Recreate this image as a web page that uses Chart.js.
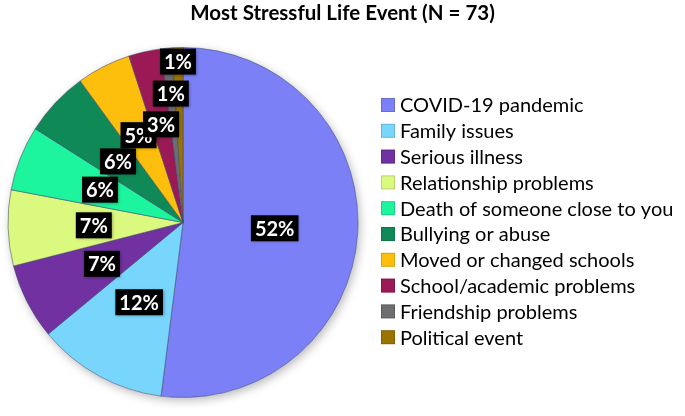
<!DOCTYPE html>
<html>
<head>
<meta charset="utf-8">
<script src="https://cdn.jsdelivr.net/npm/chart.js@4.4.0/dist/chart.umd.min.js"></script>
<style>
  html, body { margin: 0; padding: 0; background: #fff; }
</style>
</head>
<body>
<canvas id="chartPieEvents" width="685" height="416"></canvas>
<script>
var title = 'Most Stressful Life Event (N = 73)'
var labels = [
  'COVID-19 pandemic',
  'Family issues',
  'Serious illness',
  'Relationship problems',
  'Death of someone close to you',
  'Bullying or abuse',
  'Moved or changed schools',
  'School/academic problems',
  'Friendship problems',
  'Political event'
]
var values = [52, 12, 7, 7, 6, 6, 5, 3, 1, 1]
var colors = ['#7b80f7', '#78d5fc', '#7131a0', '#dbf97f', '#1cf59d', '#0f8a57', '#fdbf0c', '#9b1a56', '#6e6e70', '#9a7300']
// how far out (fraction of radius) each % box sits
var labelRadius = [0.525, 0.52, 0.52, 0.51, 0.51, 0.51, 0.56, 0.575, 0.74, 0.92]

var total = values.reduce(function (a, b) { return a + b }, 0)

// soft shadow under the pie
var pieShadow = {
  id: 'pieShadow',
  beforeDatasetsDraw: function (chart) {
    var arc = chart.getDatasetMeta(0).data[0]
    if (!arc) return
    var p = arc.getProps(['x', 'y', 'outerRadius'], true)
    var ctx = chart.ctx
    ctx.save()
    ctx.shadowColor = 'rgba(0,0,0,0.28)'
    ctx.shadowBlur = 10
    ctx.shadowOffsetX = 2
    ctx.shadowOffsetY = 3
    ctx.fillStyle = '#fff'
    ctx.beginPath()
    ctx.arc(p.x, p.y, p.outerRadius, 0, Math.PI * 2)
    ctx.fill()
    ctx.restore()
  }
}

// black boxes with white percentages
var percentLabels = {
  id: 'percentLabels',
  afterDatasetsDraw: function (chart) {
    var ctx = chart.ctx
    chart.getDatasetMeta(0).data.forEach(function (arc, i) {
      var p = arc.getProps(['x', 'y', 'startAngle', 'endAngle', 'outerRadius'], true)
      var mid = (p.startAngle + p.endAngle) / 2
      var r = p.outerRadius * labelRadius[i]
      var x = p.x + Math.cos(mid) * r
      var y = p.y + Math.sin(mid) * r
      var text = Math.round(values[i] / total * 100) + '%'
      ctx.save()
      ctx.font = 'bold 20px Lato'
      var w = ctx.measureText(text).width + 8
      var h = 26
      ctx.shadowColor = 'rgba(0,0,0,0.35)'
      ctx.shadowBlur = 3
      ctx.shadowOffsetX = 1
      ctx.shadowOffsetY = 1
      ctx.fillStyle = '#000'
      ctx.fillRect(x - w / 2, y - h / 2, w, h)
      ctx.shadowColor = 'transparent'
      ctx.fillStyle = '#fff'
      ctx.textAlign = 'center'
      ctx.textBaseline = 'middle'
      ctx.fillText(text, x, y + 1)
      ctx.restore()
    })
  }
}

// title centred on the page and legend to the right
var decor = {
  id: 'decor',
  afterDraw: function (chart) {
    var ctx = chart.ctx
    ctx.save()
    ctx.fillStyle = '#000'
    ctx.font = 'bold 20.5px Lato'
    ctx.textAlign = 'center'
    ctx.textBaseline = 'middle'
    ctx.fillText(title, chart.width / 2, 13)

    ctx.font = '20px Lato'
    ctx.textAlign = 'left'
    labels.forEach(function (lab, i) {
      var y = 105 + i * 25.8
      ctx.fillStyle = colors[i]
      ctx.fillRect(381, y - 7, 14, 14)
      ctx.strokeStyle = 'rgba(0,0,0,0.15)'
      ctx.lineWidth = 1
      ctx.strokeRect(381.5, y - 6.5, 13, 13)
      ctx.fillStyle = '#000'
      ctx.fillText(lab, 400, y + 1)
    })
    ctx.restore()
  }
}

var ctx = document.getElementById('chartPieEvents')

var chartPieEvents = new Chart(ctx, {
  type: 'pie',
  data: {
    labels: labels,
    datasets: [{
      data: values,
      backgroundColor: colors,
      borderColor: 'rgba(60,70,110,0.55)',
      borderWidth: 1
    }]
  },
  options: {
    responsive: false,
    animation: false,
    layout: {
      padding: { left: 7, right: 326, top: 47, bottom: 18 }
    },
    plugins: {
      legend: { display: false },
      tooltip: { enabled: false }
    }
  },
  plugins: [pieShadow, percentLabels, decor]
})
</script>
</body>
</html>
